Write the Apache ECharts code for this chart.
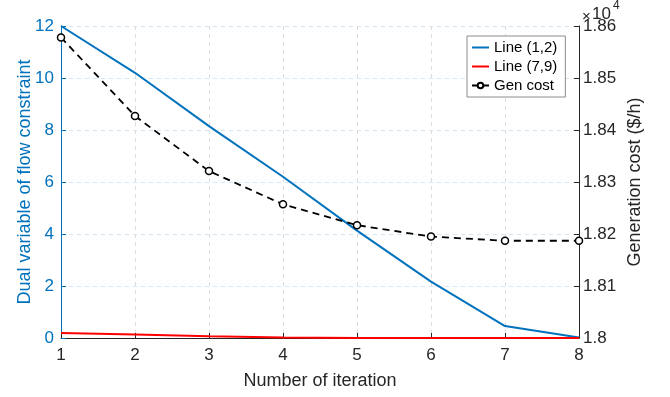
<!DOCTYPE html>
<html>
<head>
<meta charset="utf-8">
<script src="https://cdn.jsdelivr.net/npm/echarts@6/dist/echarts.min.js"></script>
<style>
  html, body { margin: 0; padding: 0; background: #fff; }
  #chart { width: 670px; height: 397px; }
</style>
</head>
<body>
<div id="chart"></div>
<script>
const iterations = [1, 2, 3, 4, 5, 6, 7, 8]
const line12 = [12, 10.2, 8.15, 6.2, 4.13, 2.17, 0.46, 0.02]
const line79 = [0.19, 0.13, 0.07, 0.02, 0, 0, 0, 0]
const genCost = [18578, 18427, 18321, 18257, 18217, 18195, 18187, 18187]

const FONT = 'Liberation Sans, Arial, Helvetica, sans-serif'
const BLUE = '#0072BD'
const DARK = '#262626'
// flat bar used as legend icon for the plain lines
const LINE_ICON = 'path://M0,0 L17,0 L17,2 L0,2 Z'

const pairs = vals => iterations.map((x, i) => [x, vals[i]])

const chart = echarts.init(document.getElementById('chart'), null, { renderer: 'canvas' })

chart.setOption({
  animation: false,
  backgroundColor: '#fff',
  textStyle: { fontFamily: FONT },
  grid: { left: 61, right: 91, top: 26, bottom: 59 },
  legend: {
    orient: 'vertical',
    left: 467,
    top: 36,
    itemWidth: 17,
    itemHeight: 7,
    itemGap: 4,
    padding: [4, 8, 4, 4],
    backgroundColor: '#fff',
    borderColor: '#8c8c8c',
    borderWidth: 1,
    textStyle: { fontFamily: FONT, fontSize: 15, color: '#000' },
    data: [
      { name: 'Line (1,2)', icon: LINE_ICON },
      { name: 'Line (7,9)', icon: LINE_ICON },
      { name: 'Gen cost' }
    ]
  },
  xAxis: {
    type: 'value',
    min: 1,
    max: 8,
    interval: 1,
    name: 'Number of iteration',
    nameLocation: 'middle',
    nameGap: 34,
    nameMoveOverlap: false,
    nameTextStyle: { fontFamily: FONT, fontSize: 18, color: DARK },
    axisLine: { lineStyle: { color: DARK, width: 1 } },
    axisTick: { inside: true, length: 5, lineStyle: { color: DARK } },
    axisLabel: { fontFamily: FONT, fontSize: 17, color: DARK, margin: 9 },
    splitLine: { show: true, lineStyle: { color: '#dcdcdc', type: [4, 4] } }
  },
  yAxis: [
    {
      type: 'value',
      min: 0,
      max: 12,
      interval: 2,
      position: 'left',
      name: 'Dual variable of flow constraint',
      nameLocation: 'middle',
      nameGap: 27,
      nameRotate: 90,
      nameMoveOverlap: false,
      nameTextStyle: { fontFamily: FONT, fontSize: 18, color: BLUE },
      axisLine: { show: true, lineStyle: { color: BLUE, width: 1 } },
      axisTick: { show: true, inside: true, length: 5, lineStyle: { color: BLUE } },
      axisLabel: { fontFamily: FONT, fontSize: 17, color: BLUE, margin: 7 },
      splitLine: { show: true, lineStyle: { color: '#d3e6f4', type: [4, 4] } }
    },
    {
      type: 'value',
      min: 18000,
      max: 18600,
      interval: 100,
      position: 'right',
      name: 'Generation cost ($/h)',
      nameLocation: 'middle',
      nameGap: 47,
      nameRotate: 90,
      nameMoveOverlap: false,
      nameTextStyle: { fontFamily: FONT, fontSize: 18, color: DARK },
      axisLine: { show: true, lineStyle: { color: DARK, width: 1 } },
      axisTick: { show: true, inside: true, length: 5, lineStyle: { color: DARK } },
      axisLabel: {
        fontFamily: FONT, fontSize: 17, color: DARK, margin: 4,
        formatter: v => String(v / 10000)
      },
      splitLine: { show: false }
    }
  ],
  graphic: [
    { type: 'text', left: 582, top: 9, style: { text: '×', fontFamily: FONT, fontSize: 15, fill: DARK } },
    { type: 'text', left: 592, top: 6, style: { text: '10', fontFamily: FONT, fontSize: 17, fill: DARK } },
    { type: 'text', left: 613, top: 0, style: { text: '4', fontFamily: FONT, fontSize: 12, fill: DARK } }
  ],
  series: [
    {
      name: 'Line (1,2)',
      type: 'line',
      yAxisIndex: 0,
      data: pairs(line12),
      symbol: 'none',
      lineStyle: { color: BLUE, width: 2 },
      itemStyle: { color: BLUE }
    },
    {
      name: 'Line (7,9)',
      type: 'line',
      yAxisIndex: 0,
      data: pairs(line79),
      symbol: 'none',
      lineStyle: { color: '#ff0000', width: 2 },
      itemStyle: { color: '#ff0000' }
    },
    {
      name: 'Gen cost',
      type: 'line',
      yAxisIndex: 1,
      data: pairs(genCost),
      symbol: 'circle',
      symbolSize: 7,
      lineStyle: { color: '#000', width: 1.8, type: [7, 5] },
      itemStyle: { color: '#fff', borderColor: '#000', borderWidth: 1.5 }
    }
  ]
})
</script>
</body>
</html>
